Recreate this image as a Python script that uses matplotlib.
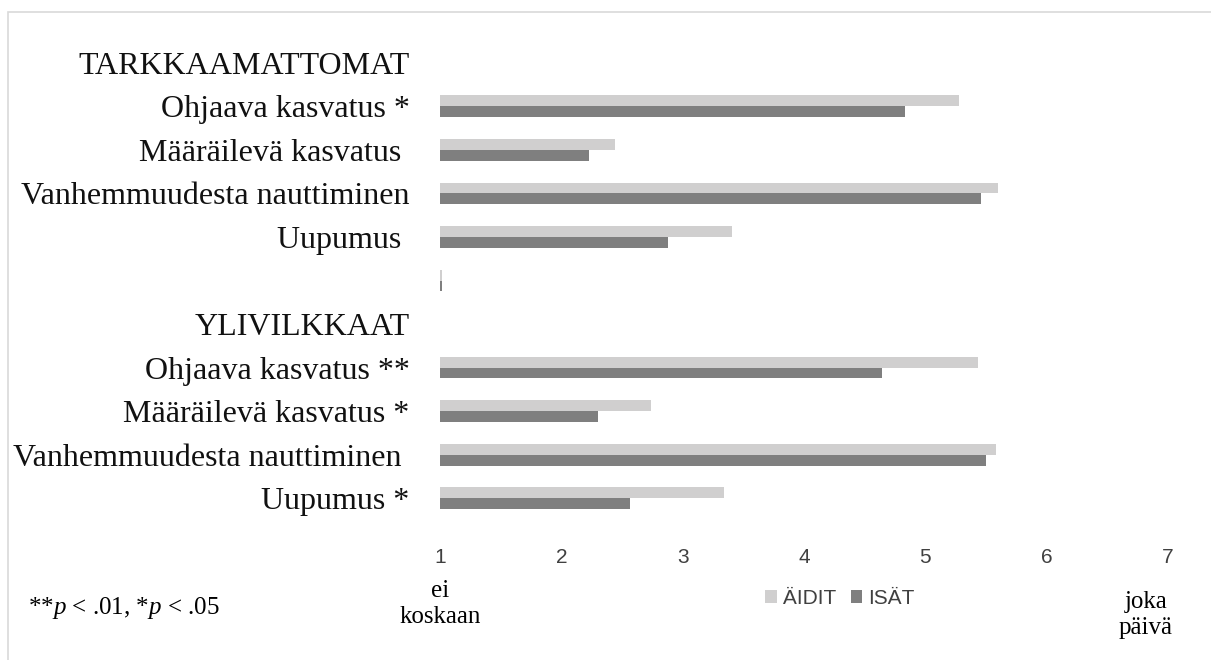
import numpy as np
import matplotlib.pyplot as plt
from matplotlib.patches import Rectangle

# rows from top to bottom; headings and the spacer row carry no bars
categories = ['TARKKAAMATTOMAT', 'Ohjaava kasvatus *', 'Määräilevä kasvatus ',
              'Vanhemmuudesta nauttiminen', 'Uupumus ', '',
              'YLIVILKKAAT', 'Ohjaava kasvatus **', 'Määräilevä kasvatus *',
              'Vanhemmuudesta nauttiminen ', 'Uupumus *']
aidit = [np.nan, 5.28, 2.44, 5.60, 3.41, 1.02, np.nan, 5.43, 2.74, 5.58, 3.34]
isat = [np.nan, 4.83, 2.23, 5.46, 2.88, 1.02, np.nan, 4.64, 2.30, 5.50, 2.57]
xticks = [1, 2, 3, 4, 5, 6, 7]

serif = 'Liberation Serif'
narrow = ['Liberation Sans Narrow', 'Liberation Sans', 'DejaVu Sans']

plt.rcParams['mathtext.fontset'] = 'custom'
plt.rcParams['mathtext.it'] = 'Liberation Serif:italic'
plt.rcParams['mathtext.rm'] = 'Liberation Serif'

fig = plt.figure(figsize=(12.11, 6.6), dpi=100)
ax = fig.add_axes([0.3633, 0.2121, 0.6012, 0.7258])

y = np.arange(len(categories))
h = 0.25
ax.barh(y - h / 2, aidit, height=h, color='#d0cfcf', label='ÄIDIT')
ax.barh(y + h / 2, isat, height=h, color='#7f7f7f', label='ISÄT')

ax.set_xlim(1, 7)
ax.set_ylim(len(categories) - 0.5, -0.5)
ax.set_xticks(xticks)
ax.set_xticklabels([str(t) for t in xticks], family=narrow, fontsize=15, color='#404040')
ax.set_yticks(y)
ax.set_yticklabels(categories, family=serif, fontsize=23, color='#111111')
ax.tick_params(axis='both', length=0)
ax.tick_params(axis='y', pad=22)
ax.tick_params(axis='x', pad=20)
for s in ax.spines.values():
    s.set_visible(False)

# axis end descriptions
fig.text(440 / 1211, 1 - 604 / 660, 'ei\nkoskaan', family=serif, fontsize=18,
         ha='center', va='center', linespacing=1.25)
fig.text(1146 / 1211, 1 - 615 / 660, 'joka\npäivä', family=serif, fontsize=18,
         ha='center', va='center', linespacing=1.25)
fig.text(28 / 1211, 1 - 608 / 660, r'**$\it{p}$ < .01, *$\it{p}$ < .05',
         family=serif, fontsize=18, ha='left', va='center')

ax.legend(loc='center', bbox_to_anchor=(840 / 1211, 1 - 598 / 660),
          bbox_transform=fig.transFigure, ncol=2, frameon=False,
          prop={'family': narrow, 'size': 15}, handlelength=0.55, handleheight=0.6,
          handletextpad=0.3, columnspacing=0.7, labelcolor='#404040')

# chart area border
fig.patches.append(Rectangle((8 / 1211, -0.1), 1.2, 1 - 12 / 660 + 0.1,
                             transform=fig.transFigure, fill=False,
                             edgecolor='#d9d9d9', linewidth=1.2))

fig.savefig('out.png', dpi=100)
